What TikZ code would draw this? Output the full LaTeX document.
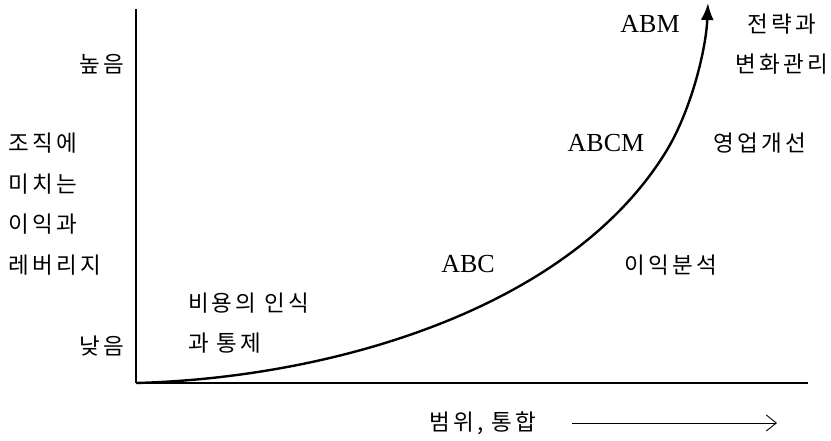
\documentclass[tikz,border=0pt]{standalone}
\usepackage{fontspec}
\setmainfont{Liberation Serif}
\newfontfamily\kr[LetterSpace=14]{Noto Sans CJK KR}
\usetikzlibrary{arrows.meta, positioning}

\begin{document}
\begin{tikzpicture}[x=1pt, y=-1pt, every node/.style={inner sep=0pt, outer sep=0pt}]
    % Styles
    \tikzstyle{krlabel} = [font=\kr\fontsize{22.5}{40.5}\selectfont, align=left]
    \tikzstyle{stage} = [font=\fontsize{26}{30}\selectfont]
    \tikzstyle{axis} = [line width=1.6pt, black]

    \useasboundingbox (0,0) rectangle (831,441);

    % Axes
    \coordinate (o) at (136,383);
    \coordinate (ytop) at (136,9);
    \coordinate (xend) at (808,383);
    \draw[axis] (ytop) -- (o);
    \draw[axis, line width=2pt] (o) -- (xend);

    % Axis labels
    \node[krlabel, anchor=east] (high) at (124,64) {높음};
    \node[krlabel, anchor=east] (low) at (124,346) {낮음};
    \node[krlabel, anchor=west] (yname) at (9,204) {조직에\\미치는\\이익과\\레버리지};
    \node[krlabel] (xname) at (483,423) {범위, 통합};

    % Stages
    \node[krlabel, anchor=west] (costctl) at (188,323) {비용의 인식\\과 통제};
    \node[stage] (abc) at (468,264) {ABC};
    \node[krlabel] (profit) at (671,265) {이익분석};
    \node[stage] (abcm) at (606,143) {ABCM};
    \node[krlabel] (oper) at (760,143) {영업개선};
    \node[stage] (abm) at (650,24) {ABM};
    \node[krlabel, align=center] (strat) at (782,44) {전략과\\변화관리};

    % Curve
    \coordinate (bend) at (667,150);
    \coordinate (tip) at (708,3);
    \draw[line width=2.4pt, -{Latex[length=17pt,width=13pt]}] (o) .. controls (330,378) and (570,310) .. (bend) .. controls (691,110) and (706,50) .. (tip);

    % Scope arrow
    \coordinate[right=36pt of xname] (arrstart);
    \coordinate (arrend) at (777,423);
    \draw[line width=0.9pt, -{Straight Barb[length=10pt,width=16pt,line width=0.9pt]}] (arrstart) -- (arrend);
\end{tikzpicture}
\end{document}
